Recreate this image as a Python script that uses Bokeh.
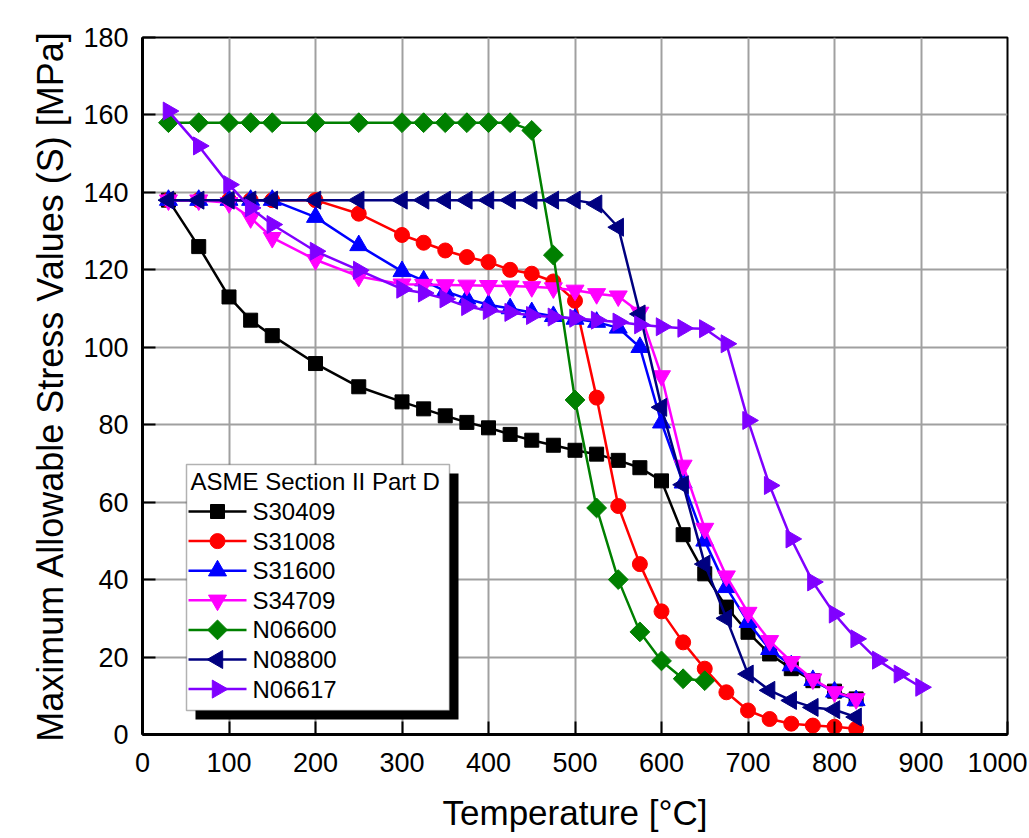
import numpy as np
from bokeh.plotting import figure
from bokeh.models import Range1d, FixedTicker, BoxAnnotation
from bokeh.core.properties import value
from bokeh.embed import file_html
from bokeh.resources import INLINE

temps = [30, 65, 100, 125, 150, 200, 250, 300, 325, 350, 375, 400, 425, 450,
         475, 500, 525, 550, 575, 600, 625, 650, 675, 700, 725, 750, 775, 800, 825]
temps_n06600 = temps[:22]
temps_n06617 = temps + [850, 875, 900]

s30409 = [138, 126, 113, 107, 103, 95.8, 89.8, 85.9, 84.1, 82.3, 80.6, 79.2, 77.5, 76.0,
          74.7, 73.4, 72.4, 70.8, 68.9, 65.5, 51.6, 41.5, 32.9, 26.4, 20.8, 17.0, 13.9, 11.2, 9.2]
s31008 = [138, 138, 138, 138, 138, 138, 134.5, 129, 127, 125, 123.3, 122, 120, 119,
          117, 112, 87, 59, 44, 31.8, 23.8, 17, 10.9, 6.2, 4.0, 2.8, 2.3, 2.0, 1.5]
s31600 = [138, 138, 138, 138, 138, 133.6, 126.3, 119.6, 117.2, 114.5, 112.5, 111, 110, 109,
          108, 107.3, 106.5, 105, 100, 80.5, 65, 50, 38, 29, 22, 17.8, 14, 11, 8.8]
s34709 = [138, 138, 137.3, 133.4, 128.3, 122.6, 118.3, 116.3, 116.2, 116.1, 116, 115.9, 115.8, 115.6,
          115.3, 114.7, 113.8, 113.2, 109, 92.6, 69.5, 53.2, 40.9, 31.5, 24.2, 18.8, 14.3, 11, 9.2]
n06600 = [158, 158, 158, 158, 158, 158, 158, 158, 158, 158, 158, 158, 158, 156,
          123.8, 86.4, 58.5, 40, 26.5, 19, 14.4, 13.9]
n08800 = [138, 138, 138, 138, 138, 138, 138, 138, 138, 138, 138, 138, 138, 138,
          138, 138, 137, 131, 108.6, 84.5, 64.5, 44, 30, 15.6, 11.4, 8.8, 7.0, 6.4, 4.5]
n06617 = [161, 152, 142, 136, 131.7, 124.8, 119.9, 115, 114, 112.5, 110.5, 109.5, 109, 108.2,
          107.8, 107.5, 107, 106.5, 105.8, 105.3, 104.9, 104.8, 100.9, 81.1, 64.3, 50.5, 39.4, 31.1, 24.7,
          19.2, 15.6, 12.2]

names = ["S30409", "S31008", "S31600", "S34709", "N06600", "N08800", "N06617"]
legend_title = "ASME Section II Part D"
x_ticks = [0, 100, 200, 300, 400, 500, 600, 700, 800, 900, 1000]
y_ticks = [0, 20, 40, 60, 80, 100, 120, 140, 160, 180]

FONT = "Liberation Sans"
FW, FH = 865, 697
X0, X1, Y0, Y1 = 0, 1000, 0, 180

p = figure(frame_width=FW, frame_height=FH, output_backend="svg", toolbar_location=None,
           x_range=Range1d(X0, X1), y_range=Range1d(Y0, Y1),
           min_border_left=142, min_border_top=37, min_border_right=20, min_border_bottom=100)
p.background_fill_color = "white"
p.border_fill_color = "white"
p.outline_line_color = "black"
p.outline_line_width = 2

p.xaxis.ticker = FixedTicker(ticks=x_ticks)
p.yaxis.ticker = FixedTicker(ticks=y_ticks)
for ax in (p.xaxis[0], p.yaxis[0]):
    ax.axis_line_width = 3
    ax.axis_line_color = "black"
    ax.major_tick_in = 13
    ax.major_tick_out = 0
    ax.major_tick_line_width = 2
    ax.minor_tick_line_color = None
    ax.major_label_text_font = FONT
    ax.major_label_text_font_size = "27px"
    ax.major_label_text_color = "black"
    ax.axis_label_text_font = FONT
    ax.axis_label_text_font_size = "36px"
    ax.axis_label_text_font_style = "normal"
    ax.axis_label_text_color = "black"
p.xaxis.axis_label_text_font_size = "35px"
p.xaxis.axis_label = "Temperature [°C]"
p.yaxis.axis_label = "Maximum Allowable Stress Values (S) [MPa]"
p.xaxis.major_label_standoff = 18
p.yaxis.major_label_standoff = 14
p.xaxis.axis_label_standoff = 18
p.yaxis.axis_label_standoff = 9

p.grid.grid_line_color = "#a0a0a0"
p.grid.grid_line_width = 2

styles = [
    ("black", "square", 0.0, 14),
    ("red", "circle", 0.0, 15),
    ("blue", "triangle", 0.0, 18),
    ("#ff00ff", "inverted_triangle", 0.0, 18),
    ("green", "square", np.pi / 4, 14),
    ("#000080", "triangle", np.pi / 2, 18),
    ("#8000ff", "triangle", -np.pi / 2, 18),
]
xs_all = [temps, temps, temps, temps, temps_n06600, temps, temps_n06617]
ys_all = [s30409, s31008, s31600, s34709, n06600, n08800, n06617]

for xs, ys, (col, mk, ang, sz) in zip(xs_all, ys_all, styles):
    p.line(xs, ys, line_color=col, line_width=2.5)
    p.scatter(xs, ys, marker=mk, angle=ang, size=sz, fill_color=col, line_color=col)

# ---- legend (drawn by hand so that rotated markers are shown), layout in frame pixels ----
def dx(px):
    return X0 + px * (X1 - X0) / FW

def dy(py):  # py measured from frame bottom
    return Y0 + py * (Y1 - Y0) / FH

BOX_L, BOX_R, BOX_B, BOX_T = 44, 307, 24, 270
SH = 9
p.add_layout(BoxAnnotation(left=dx(BOX_L + SH), right=dx(BOX_R + SH), bottom=dy(BOX_B - SH),
                           top=dy(BOX_T - SH), fill_color="black", fill_alpha=1.0,
                           line_color=None))
p.add_layout(BoxAnnotation(left=dx(BOX_L), right=dx(BOX_R), bottom=dy(BOX_B), top=dy(BOX_T),
                           fill_color="white", fill_alpha=1.0, line_color="black",
                           line_width=1.5))

p.text(x=[dx(BOX_L + 4)], y=[dy(BOX_T - 17)], text=[legend_title], text_font=value(FONT),
       text_font_size="24px", text_color="black", text_baseline="middle", level="overlay")
row0, rowstep = BOX_T - 47, 29.6
for i, (nm, (col, mk, ang, sz)) in enumerate(zip(names, styles)):
    yy = dy(row0 - i * rowstep)
    p.line([dx(BOX_L + 2), dx(BOX_L + 60)], [yy, yy], line_color=col, line_width=2.5, level="overlay")
    p.scatter([dx(BOX_L + 31)], [yy], marker=mk, angle=ang, size=sz, fill_color=col,
              line_color=col, level="overlay")
    p.text(x=[dx(BOX_L + 66)], y=[yy], text=[nm], text_font=value(FONT), text_font_size="24px",
           text_color="black", text_baseline="middle", level="overlay")

open("out.html", "w").write(file_html(p, INLINE))
